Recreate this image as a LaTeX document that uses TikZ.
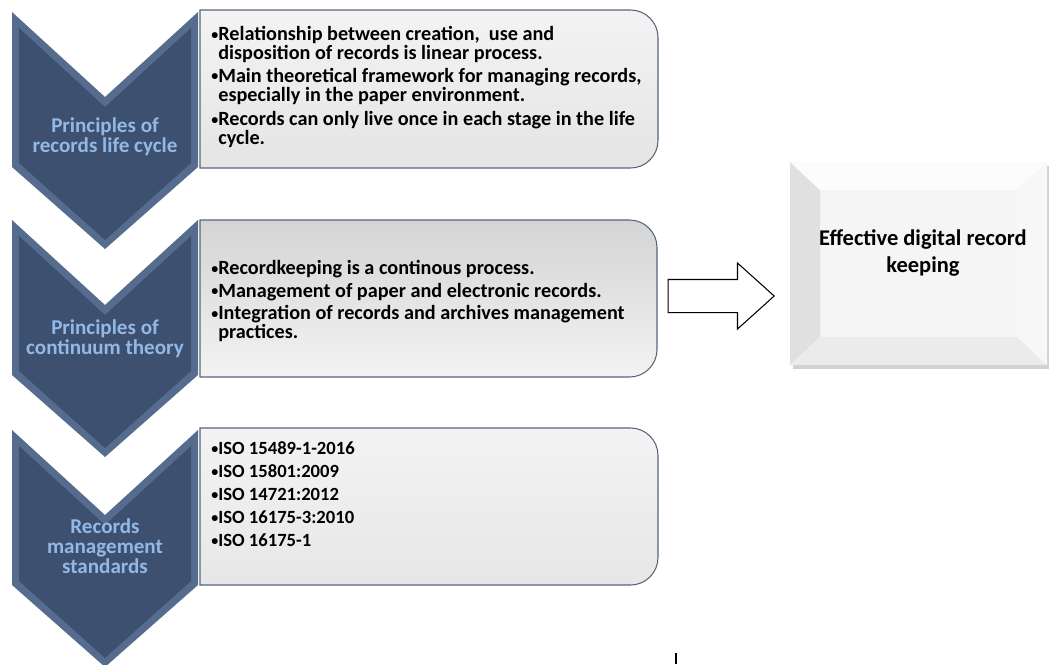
\documentclass[tikz,border=0pt]{standalone}
\usepackage{fontspec}
\setmainfont{Carlito}
\usetikzlibrary{shapes.arrows,positioning}
\definecolor{chevdark}{HTML}{3D5070}
\definecolor{chevedge}{HTML}{566C8E}
\definecolor{labelblue}{HTML}{92B8E6}
\definecolor{boxline}{HTML}{56657A}
\definecolor{boxlight}{HTML}{F3F3F3}
\definecolor{boxgrey}{HTML}{D4D4D4}
\tikzset{
  chevtext/.style={text=labelblue,font=\fontsize{12}{11.5}\selectfont\bfseries,align=center},
  itemtext/.style={anchor=north west,inner sep=0pt,align=left,
    font=\fontsize{11.5}{10.8}\selectfont\bfseries},
  panel/.style={draw=boxline,line width=.6pt},
  blockarrow/.style={single arrow,draw,line width=.6pt,fill=white,inner sep=0pt,
    text height=.32cm,text depth=.32cm,minimum height=2.12cm,
    single arrow head extend=.33cm,single arrow tip angle=84}}
\newcommand\bul{\raisebox{.12ex}{\fontsize{8}{8}\selectfont\textbullet}}
\newcommand\hang{\hphantom{\bul}}

\begin{document}
\begin{tikzpicture}[x=0.02cm,y=-0.02cm]
\useasboundingbox (0,0) rectangle (1049,664);

% panels behind the chevrons
\shade[panel,top color=boxlight,bottom color=boxlight!94!black]
  (200,168) -- (200,10) [rounded corners=.55cm] -- (658,10) -- (658,168) [sharp corners] -- (200,168) -- cycle;
\shade[panel,top color=boxgrey,bottom color=boxlight]
  (200,377) -- (200,220) [rounded corners=.55cm] -- (657,220) -- (657,377) [sharp corners] -- (200,377) -- cycle;
\shade[panel,top color=boxlight,bottom color=boxlight!95!black]
  (200,585) -- (200,428) [rounded corners=.55cm] -- (658,428) -- (658,585) [sharp corners] -- (200,585) -- cycle;

% chevrons
\foreach \y in {12,220,430}{
  \fill[chevedge] (12,\y) -- (105,\y+85) -- (198,\y) -- (198,\y+155) -- (105,\y+237) -- (12,\y+155) -- cycle;
  \fill[chevdark] (19,\y+16) -- (105,\y+95) -- (191,\y+16) -- (191,\y+151) -- (105,\y+228) -- (19,\y+151) -- cycle;
}
\node[chevtext] (lab1) at (105,137) {Principles of\\records life cycle};
\node[chevtext] (lab2) at (105,339) {Principles of\\continuum theory};
\node[chevtext] (lab3) at (105,546) {Records\\management\\standards};

% bullet texts
\node[itemtext] (txt1) at (211,26) {\bul Relationship between creation,\ \ use and\\
  \hang disposition of records is linear process.\\[2pt]
  \bul Main theoretical framework for managing records,\\
  \hang especially in the paper environment.\\[3pt]
  \bul Records can only live once in each stage in the life\\
  \hang cycle.};
\node[itemtext] (txt2) at (211,260) {\bul Recordkeeping is a continous process.\\[2pt]
  \bul Management of paper and electronic records.\\[2pt]
  \bul Integration of records and archives management\\
  \hang practices.};
\node[itemtext,font=\fontsize{10.6}{10.8}\selectfont\bfseries] (txt3) at (211,441) {\bul ISO 15489-1-2016\\[2.4pt]
  \bul ISO 15801:2009\\[2.4pt]
  \bul ISO 14721:2012\\[2.4pt]
  \bul ISO 16175-3:2010\\[2.4pt]
  \bul ISO 16175-1};

% result box
\fill[black!18] (793,166) rectangle (1049,369);
\fill[black!4] (790,162) rectangle (1047,365);
\fill[black!12] (790,162) -- (820,190) -- (820,337) -- (790,365) -- cycle;
\fill[black!8] (790,365) -- (820,337) -- (1017,337) -- (1047,365) -- cycle;
\fill[black!1] (790,162) -- (820,190) -- (1017,190) -- (1047,162) -- cycle;
\fill[black!3] (1047,162) -- (1017,190) -- (1017,337) -- (1047,365) -- cycle;
\node[font=\fontsize{12.8}{15.3}\selectfont\bfseries,align=center] (eff) at (923,253)
  {Effective digital record\\keeping};

\node[blockarrow] (arr) at (712,296) {};
\draw[line width=.6pt] (676,653) -- (676,664);
\end{tikzpicture}
\end{document}
